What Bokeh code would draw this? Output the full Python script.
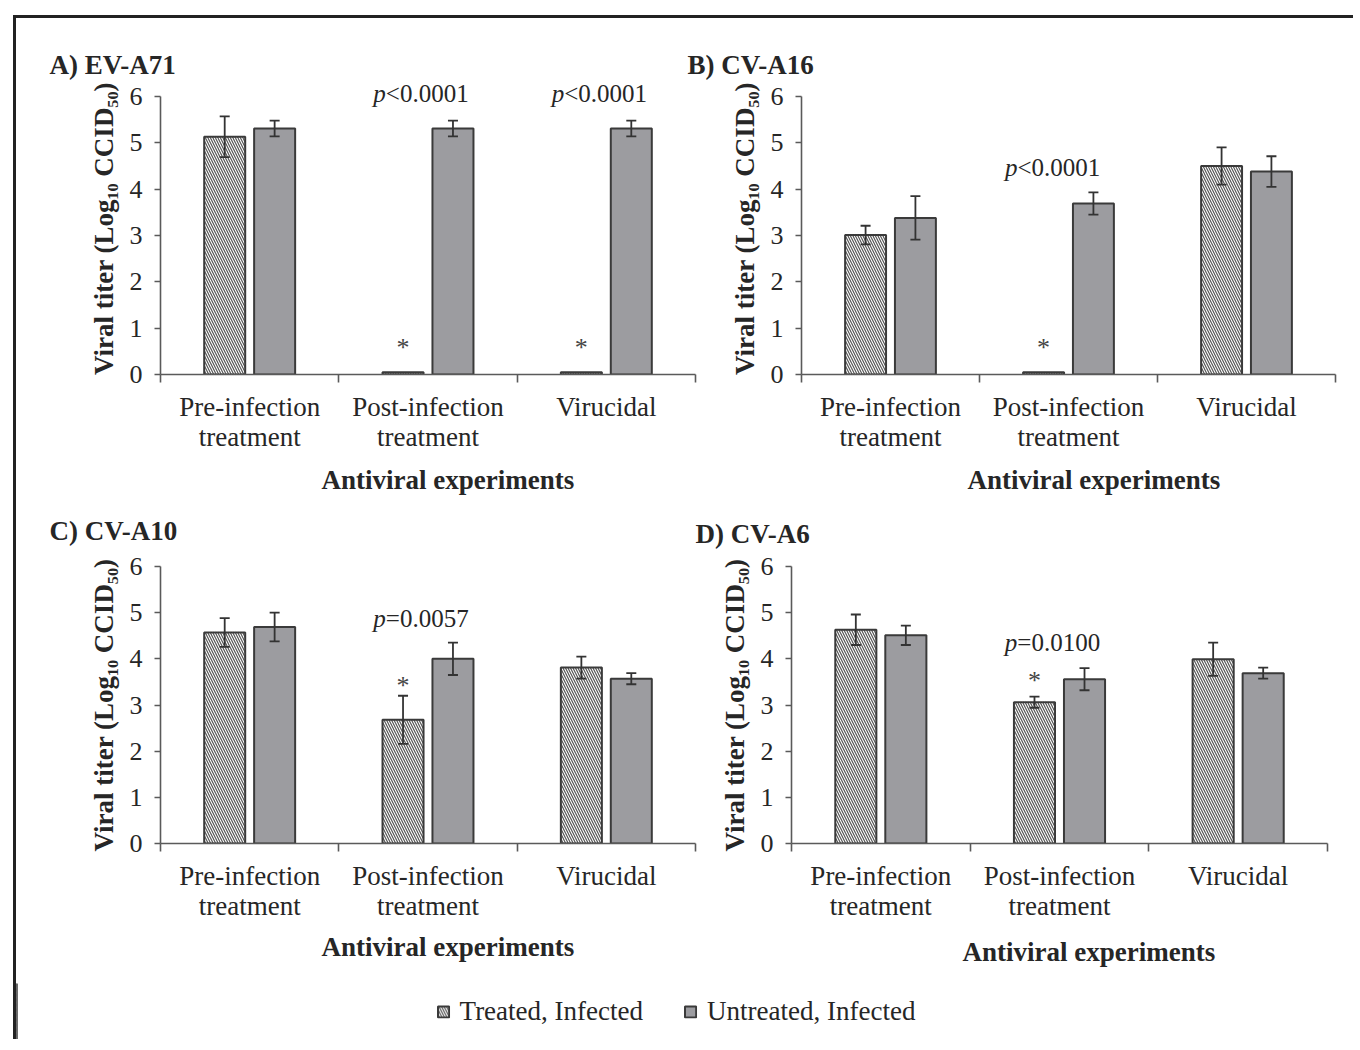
from bokeh.plotting import figure
from bokeh.models import (Range1d, FixedTicker, Whisker, TeeHead, ColumnDataSource,
                          Label, Legend, LegendItem, Title)
from bokeh.layouts import column, row
from bokeh.embed import file_html
from bokeh.resources import INLINE

# ---------------- data ----------------
categories = ["Pre-infection\ntreatment", "Post-infection\ntreatment", "Virucidal"]
series_names = ["Treated, Infected", "Untreated, Infected"]
panel_titles = ["A) EV-A71", "B) CV-A16", "C) CV-A10", "D) CV-A6"]
x_axis_title = "Antiviral experiments"
y_axis_title = "Viral titer (Log\u2081\u2080 CCID\u2085\u2080)"
y_ticks = [0, 1, 2, 3, 4, 5, 6]

a_treated = [5.13, 0.05, 0.05]
a_treated_err = [0.44, 0.0, 0.0]
a_untreated = [5.31, 5.31, 5.31]
a_untreated_err = [0.17, 0.17, 0.17]
a_pvalues = [None, "<0.0001", "<0.0001"]
a_significant = [False, True, True]

b_treated = [3.01, 0.05, 4.50]
b_treated_err = [0.20, 0.0, 0.40]
b_untreated = [3.38, 3.69, 4.38]
b_untreated_err = [0.47, 0.24, 0.33]
b_pvalues = [None, "<0.0001", None]
b_significant = [False, True, False]

c_treated = [4.57, 2.68, 3.81]
c_treated_err = [0.31, 0.52, 0.24]
c_untreated = [4.69, 4.00, 3.57]
c_untreated_err = [0.31, 0.35, 0.12]
c_pvalues = [None, "=0.0057", None]
c_significant = [False, True, False]

d_treated = [4.63, 3.06, 3.99]
d_treated_err = [0.33, 0.12, 0.36]
d_untreated = [4.51, 3.56, 3.69]
d_untreated_err = [0.21, 0.24, 0.12]
d_pvalues = [None, "=0.0100", None]
d_significant = [False, True, False]

# ---------------- style ----------------
FONT = "Liberation Serif"
TXT = "#262626"
AX = "#5a5a5a"
GRAY = "#9c9ca0"
EDGE = "#3a3a3a"
HATCH = "#555555"
BAR_W = 0.23
OFFS = (-0.14, 0.14)
Y_MAX = 6
PX_PER_UNIT = 278 / 6.0

# per-panel layout: size, borders, label placements
panels = [
    dict(data=(a_treated, a_treated_err, a_untreated, a_untreated_err, a_pvalues, a_significant),
         title=panel_titles[0], w=685, h=490, ml=0, bl=144, br=6, bt=64, bb=134, extra_px=14,
         title_off=-111, title_standoff=5, xlab_off=161, xlab_standoff=17,
         p_dx=-0.04, p_dy=0.58, star_dy=[0, 0.53, 0.53]),
    dict(data=(b_treated, b_treated_err, b_untreated, b_untreated_err, b_pvalues, b_significant),
         title=panel_titles[1], w=666, h=490, ml=-14, bl=114, br=18, bt=64, bb=134, extra_px=14,
         title_off=-114, title_standoff=5, xlab_off=166, xlab_standoff=17,
         p_dx=-0.09, p_dy=0.53, star_dy=[0, 0.53, 0]),
    dict(data=(c_treated, c_treated_err, c_untreated, c_untreated_err, c_pvalues, c_significant),
         title=panel_titles[2], w=685, h=490, ml=0, bl=144, br=6, bt=72, bb=140, extra_px=0,
         title_off=-111, title_standoff=41, xlab_off=161, xlab_standoff=13,
         p_dx=-0.04, p_dy=0.53, star_dy=[0, 0.22, 0]),
    dict(data=(d_treated, d_treated_err, d_untreated, d_untreated_err, d_pvalues, d_significant),
         title=panel_titles[3], w=662, h=490, ml=-10, bl=100, br=26, bt=72, bb=140, extra_px=0,
         title_off=-96, title_standoff=35, xlab_off=171, xlab_standoff=23,
         p_dx=-0.04, p_dy=0.56, star_dy=[0, 0.34, 0]),
]


def make_panel(cfg):
    treated, terr, untreated, uerr, pvals, sig = cfg["data"]
    y_end = Y_MAX + cfg["extra_px"] / PX_PER_UNIT
    p = figure(width=cfg["w"], height=cfg["h"], x_range=Range1d(0, 3), y_range=Range1d(0, y_end),
               output_backend="svg", toolbar_location=None,
               min_border_left=cfg["bl"], min_border_right=cfg["br"],
               min_border_top=cfg["bt"], min_border_bottom=cfg["bb"])
    if cfg["ml"]:
        p.margin = (0, 0, 0, cfg["ml"])
    p.border_fill_alpha = 0
    p.outline_line_color = None
    p.grid.visible = False
    p.background_fill_color = "white"

    p.add_layout(Title(text=cfg["title"], align="left", offset=cfg["title_off"],
                       standoff=cfg["title_standoff"], text_font=FONT, text_font_size="27px",
                       text_font_style="bold", text_color=TXT), "above")
    p.add_layout(Title(text=x_axis_title, align="left", offset=cfg["xlab_off"],
                       standoff=cfg["xlab_standoff"], text_font=FONT, text_font_size="27px",
                       text_font_style="bold", text_color=TXT), "below")

    xs_t = [i + 0.5 + OFFS[0] for i in range(len(categories))]
    xs_u = [i + 0.5 + OFFS[1] for i in range(len(categories))]

    p.vbar(x=xs_t, top=treated, bottom=0, width=BAR_W, fill_color="white",
           line_color=EDGE, line_width=2, hatch_pattern="left_diagonal_line",
           hatch_color=HATCH, hatch_weight=1.2, hatch_scale=5)
    p.vbar(x=xs_u, top=untreated, bottom=0, width=BAR_W, fill_color=GRAY,
           line_color=EDGE, line_width=2)

    wx, wu, wl = [], [], []
    for x, v, e in list(zip(xs_t, treated, terr)) + list(zip(xs_u, untreated, uerr)):
        if e > 0:
            wx.append(x); wu.append(v + e); wl.append(v - e)
    src = ColumnDataSource(dict(x=wx, upper=wu, lower=wl))
    wh = Whisker(source=src, base="x", upper="upper", lower="lower",
                 line_color="#333333", line_width=1.8, level="annotation",
                 upper_head=TeeHead(size=10, line_color="#333333", line_width=1.8),
                 lower_head=TeeHead(size=10, line_color="#333333", line_width=1.8))
    p.add_layout(wh)

    # y axis
    ya = p.yaxis[0]
    ya.ticker = FixedTicker(ticks=y_ticks, minor_ticks=[])
    ya.bounds = (0, Y_MAX)
    ya.axis_line_color = AX
    ya.axis_line_width = 1.6
    ya.major_tick_line_color = AX
    ya.major_tick_line_width = 1.6
    ya.major_tick_out = 6
    ya.major_tick_in = 0
    ya.major_label_standoff = 12
    ya.major_label_text_font = FONT
    ya.major_label_text_font_size = "26px"
    ya.major_label_text_color = TXT
    ya.axis_label = y_axis_title
    ya.axis_label_text_font = FONT
    ya.axis_label_text_font_size = "27px"
    ya.axis_label_text_font_style = "bold"
    ya.axis_label_text_color = TXT
    ya.axis_label_standoff = 8

    # x axis: labels at category centres, ticks at category boundaries
    xa = p.xaxis[0]
    xa.ticker = FixedTicker(ticks=[i + 0.5 for i in range(len(categories))],
                            minor_ticks=[i for i in range(len(categories) + 1)])
    xa.major_label_overrides = {i + 0.5: c for i, c in enumerate(categories)}
    xa.axis_line_color = AX
    xa.axis_line_width = 1.6
    xa.major_tick_line_color = None
    xa.major_tick_out = 0
    xa.major_tick_in = 0
    xa.minor_tick_line_color = AX
    xa.minor_tick_line_width = 1.6
    xa.minor_tick_out = 8
    xa.minor_tick_in = 0
    xa.major_label_standoff = 9
    xa.major_label_text_font = FONT
    xa.major_label_text_font_size = "27px"
    xa.major_label_text_color = TXT
    xa.major_label_text_line_height = 1.0

    # p-values and asterisks
    for i in range(len(categories)):
        if pvals[i]:
            py = untreated[i] + uerr[i] + cfg["p_dy"]
            px = i + 0.5 + cfg["p_dx"]
            p.add_layout(Label(x=px, y=py, x_offset=-35, text="p", text_font=FONT,
                               text_font_size="25px", text_font_style="italic",
                               text_color=TXT, text_align="right", text_baseline="middle"))
            p.add_layout(Label(x=px, y=py, x_offset=-35, text=pvals[i], text_font=FONT,
                               text_font_size="25px", text_color=TXT, text_align="left",
                               text_baseline="middle"))
        if sig[i]:
            sy = treated[i] + terr[i] + cfg["star_dy"][i]
            p.add_layout(Label(x=xs_t[i], y=sy, text="*", text_font=FONT,
                               text_font_size="26px", text_color="#444444",
                               text_align="center", text_baseline="middle"))
    return p


figs = [make_panel(c) for c in panels]

# legend strip (swatch renderers sit outside the visible range)
lg = figure(width=1337, height=56, x_range=Range1d(0, 1), y_range=Range1d(0, 1),
            output_backend="svg", toolbar_location=None, x_axis_type=None, y_axis_type=None,
            min_border_left=0, min_border_right=18, min_border_top=0, min_border_bottom=0)
lg.outline_line_color = None
lg.grid.visible = False
lg.background_fill_alpha = 0
lg.border_fill_alpha = 0
r1 = lg.vbar(x=[-5], top=[1], width=0.1, fill_color="white", line_color=EDGE, line_width=2,
             hatch_pattern="left_diagonal_line", hatch_color=HATCH, hatch_weight=1.2,
             hatch_scale=5)
r2 = lg.vbar(x=[-5], top=[1], width=0.1, fill_color=GRAY, line_color=EDGE, line_width=2)
legend = Legend(items=[LegendItem(label=series_names[0], renderers=[r1]),
                       LegendItem(label=series_names[1], renderers=[r2])],
                orientation="horizontal", location="center", glyph_width=14, glyph_height=14,
                label_standoff=10, spacing=40, padding=0, margin=0,
                border_line_color=None, background_fill_alpha=0,
                label_text_font=FONT, label_text_font_size="27px", label_text_color=TXT)
lg.add_layout(legend)

row1 = row(figs[0], figs[1])
row2 = row(figs[2], figs[3], margin=(-15, 0, 0, 0))
layout = column(row1, row2, lg,
                styles={"border-top": "3px solid #222", "border-left": "3px solid #222",
                        "transform": "translate(13px, 15px)"})

open("out.html", "w").write(file_html(layout, INLINE))
